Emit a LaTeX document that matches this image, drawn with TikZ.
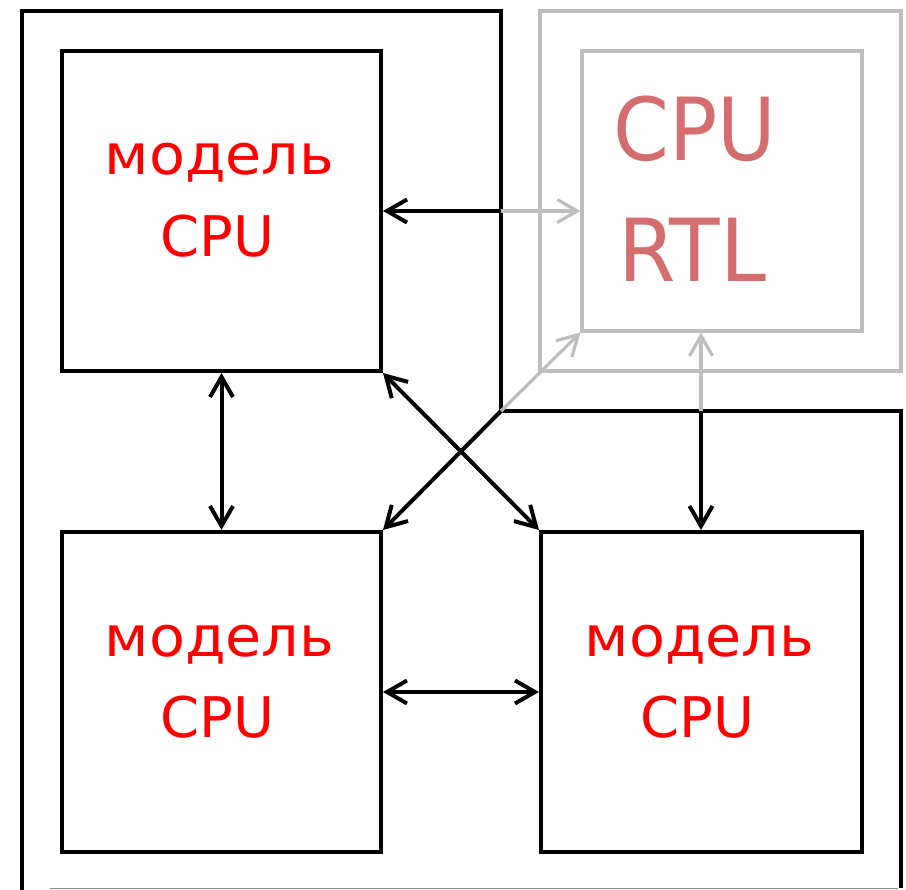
\documentclass[tikz,border=0pt]{standalone}
\usepackage{fontspec}
\setmainfont{DejaVu Sans}
\usetikzlibrary{arrows.meta,calc}
\definecolor{modelred}{RGB}{255,0,0}
\definecolor{rtlred}{RGB}{212,110,110}
\definecolor{frame}{RGB}{190,190,190}
\begin{document}
\begin{tikzpicture}[x=1pt,y=-1pt,
  >={Straight Barb[length=20pt,width=23pt]},
  blk/.style={draw=black,line width=4pt},
  gry/.style={draw=frame,line width=3.2pt},
  cpubox/.style={blk,rectangle,inner sep=0pt,minimum width=319pt,minimum height=320pt},
  lbl/.style={text=modelred,font=\fontsize{56}{60}\selectfont,inner sep=0pt,anchor=base},
  rtllbl/.style={text=rtlred,font=\fontsize{87}{92}\selectfont,inner sep=0pt,anchor=base west}]
  \useasboundingbox (0,0) rectangle (906,890);

  % outer frame of the simulated part
  \draw[blk,line join=miter] (22,890) -- (22,11) -- (501,11) -- (501,411) -- (901,411) -- (901,888);
  \draw[black!45,line width=1.5pt] (50,888.5) -- (898,888.5);

  % RTL part
  \node[gry,rectangle,minimum width=361pt,minimum height=360pt] (rtlframe) at (720.5,191) {};
  \node[gry,rectangle,minimum width=280pt,minimum height=280pt] (rtl) at (722,191) {};
  \node[rtllbl] (rtlcpu) at (613,161) {\scalebox{0.92}[1]{CPU}};
  \node[rtllbl] (rtlrtl) at (618,282) {\scalebox{0.95}[1]{RTL}};

  % CPU models
  \node[cpubox] (m1) at (221.5,211) {};
  \node[cpubox] (m2) at (221.5,692) {};
  \node[cpubox,minimum width=321pt] (m3) at (701.5,692) {};

  \foreach \b in {m1,m2,m3}{
    \node[lbl] (\b a) at ($(\b.north)+(-2,126)$) {\scalebox{1.05}[1]{модель}};
    \node[lbl] (\b b) at ($(\b.north)+(-4,207.5)$) {CPU};
  }

  % crossing points on the frame
  \coordinate (j1) at (501,211);
  \coordinate (j2) at (501,411);
  \coordinate (j3) at (701,411);

  % links
  \draw[blk,<-] (m1.east) -- (j1);
  \draw[gry,->] (j1) -- (rtl.west |- j1);
  \draw[blk,<->] (m1.south) -- (m2.north);
  \draw[blk,<->] (m1.south east) -- (m3.north west);
  \draw[blk,->] (j2) -- (m2.north east);
  \draw[gry,->] (j2) -- (rtl.south west);
  \draw[blk,<->] (m2.east) -- (m3.west);
  \draw[blk,->] (j3) -- (m3.north -| j3);
  \draw[gry,->] (j3) -- (rtl.south -| j3);
\end{tikzpicture}
\end{document}
